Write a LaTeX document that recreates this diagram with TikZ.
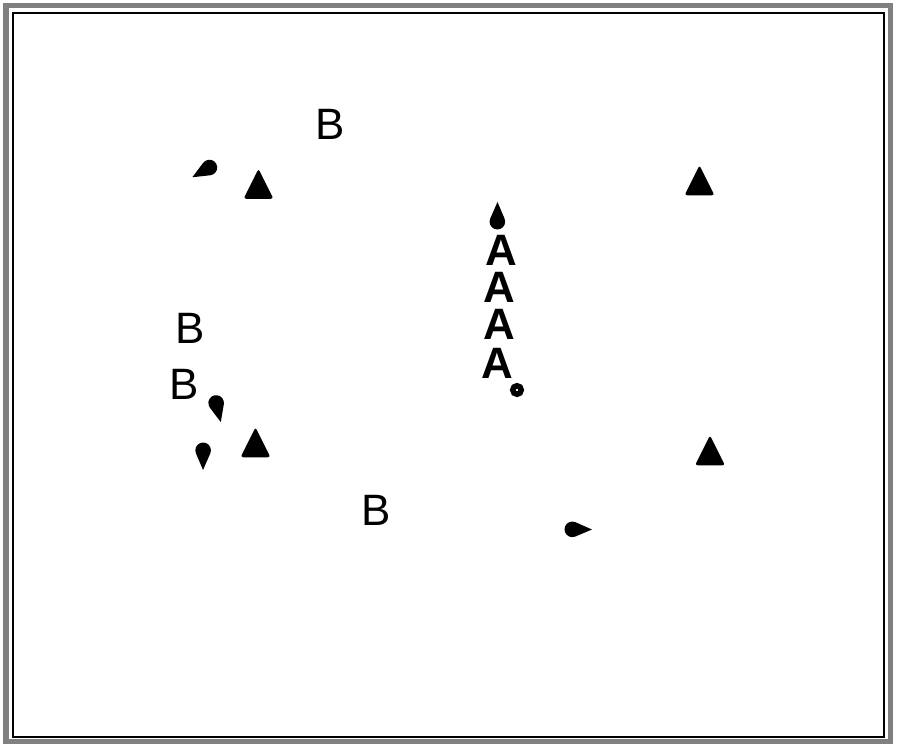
\documentclass[tikz,border=0pt]{standalone}
\usepackage{fontspec}
\setmainfont{Liberation Sans}
\usetikzlibrary{shapes.geometric,
                positioning}
\tikzset{frame-outer/.style =
   {draw=black!50,
    line width=1mm}}
\tikzset{frame-inner/.style =
   {draw=black,
    line width=0.3mm}}
\tikzset{letter/.style =
   {inner sep=0pt,
    font=\fontsize{25}{25}\selectfont}}
\tikzset{letter-bold/.style =
   {inner sep=0pt,
    font=\fontsize{25}{25}\selectfont\bfseries}}
\tikzset{tri/.style =
   {isosceles triangle,
    isosceles triangle stretches,
    shape border rotate=90,
    fill=black,
    rounded corners=1.5pt,
    inner sep=0pt,
    minimum width=6mm,
    minimum height=6mm}}
\tikzset{ring/.style =
   {circle,
    draw=black,
    line width=1.1mm,
    inner sep=0pt,
    minimum size=1.7mm}}
\tikzset{tear/.pic =
   {\fill[black] (-13.5,0) -- (3.1,7.3)
        arc[start angle=113.3, end angle=-113.3, radius=7.8] -- cycle;}}

\begin{document}
\begin{tikzpicture}[x=0.2mm, y=-0.2mm]

    \useasboundingbox (0,0) rectangle (900,752);

    % frame
    \draw [frame-outer] (6,6) rectangle (890,742);
    \draw [frame-inner] (13,13) rectangle (884,737);

    % letters
    \node [letter] (bTop)    at (330,124)   {B};
    \node [letter] (bLeftA)  at (190.5,328.5) {B};
    \node [letter] (bLeftB)  at (184,384.5) {B};
    \node [letter] (bBottom) at (376,510)   {B};

    % column of A
    \node [letter-bold] (a1) at (501,250)   {A};
    \node [letter-bold] (a2) at (499,287)   {A};
    \node [letter-bold] (a3) at (499.5,324) {A};
    \node [letter-bold] (a4) at (497.5,363) {A};
    \node [ring] (dot) at (517,390) {};

    % triangles
    \node [tri] (triNW) at (258.5,189.5) {};
    \node [tri] (triNE) at (699.5,186)   {};
    \node [tri] (triSW) at (255.5,448)   {};
    \node [tri] (triSE) at (710,456)     {};

    % drops
    \pic [rotate=30]  (dropNW) at (204,170.5)   {tear};
    \pic [rotate=-90] (dropA)  at (497.5,215.5) {tear};
    \pic [rotate=104] (dropL1) at (217.5,409)   {tear};
    \pic [rotate=90]  (dropL2) at (203,456.5)   {tear};
    \pic [rotate=180] (dropS)  at (578.5,529.5) {tear};

\end{tikzpicture}
\end{document}
